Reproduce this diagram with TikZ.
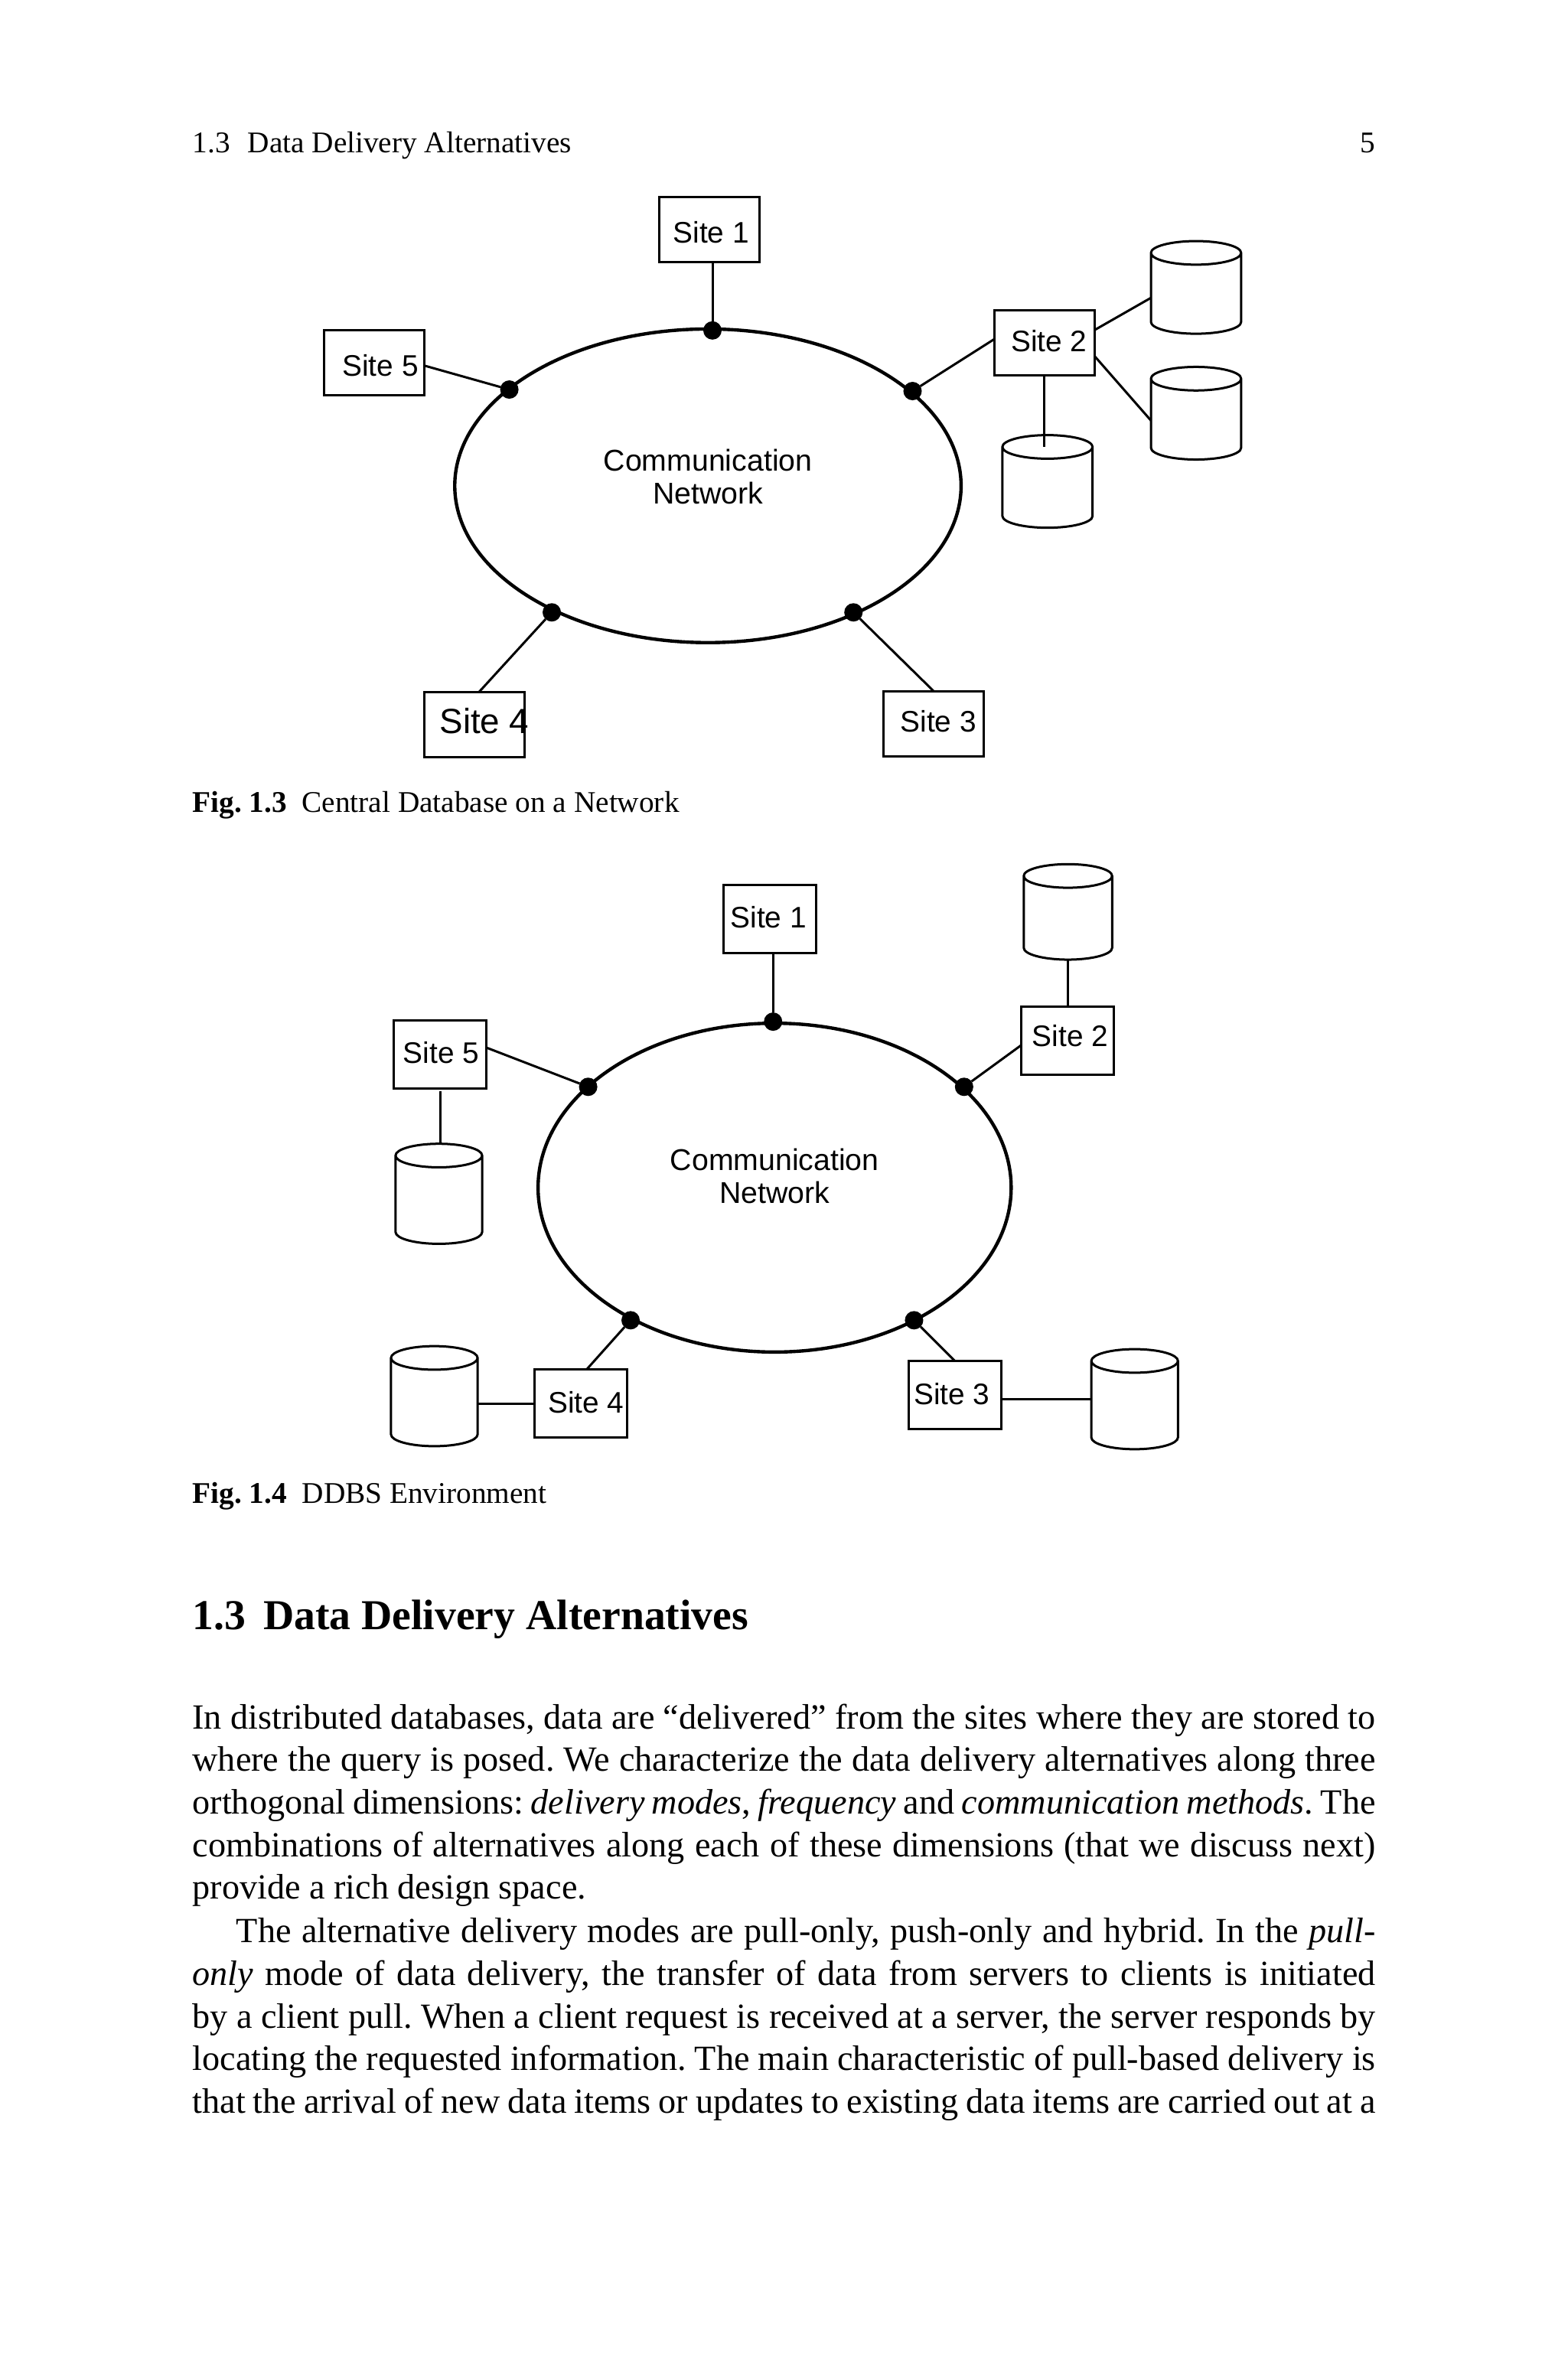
\documentclass[tikz,border=0pt]{standalone}
\usepackage{fontspec}
\setmainfont{Liberation Serif}[WordSpace={1,1,2}]
\newfontfamily\arialfont{Liberation Sans}
\usetikzlibrary{shapes.geometric}
\newcommand{\sitelabel}[3]{\makebox[\boxw][l]{\hspace*{#1}\raisebox{#2}[6pt][0pt]{#3}}}
\tikzset{
  net/.style={draw, ellipse, line width=0.95pt, inner sep=0pt, outer sep=0pt},
  nettext/.style={align=center, inner sep=0pt, font=\arialfont\fontsize{8.5}{9.4}\selectfont},
  dot/.style={circle, fill=black, inner sep=0pt, outer sep=0pt, minimum size=5.2pt},
  sitebox/.style={draw, rectangle, line width=0.65pt, inner sep=0pt, outer sep=0pt, minimum width=\boxw, minimum height=\boxh, font=\arialfont\fontsize{8.4}{10}\selectfont},
  db/.style={draw, cylinder, shape border rotate=90, aspect=1, line width=0.65pt, outer sep=0pt},
  link/.style={line width=0.65pt},
  line/.style={inner sep=0pt, outer sep=0pt, anchor=base west, font=\fontsize{8.5}{11}\selectfont\frenchspacing},
  para/.style={inner sep=0pt, outer sep=0pt, anchor=north west, text width=334.6pt, align=justify, font=\fontsize{10}{12.05}\selectfont\frenchspacing}
}
\begin{document}
\begin{tikzpicture}[x=0.21436pt, y=-0.21436pt]
  \useasboundingbox (0,0) rectangle (2068,3135);
  \node[line] (header) at (254,201) {1.3\hspace{5pt}Data Delivery Alternatives};
  \node[line, anchor=base east] (folio) at (1814,201) {5};

  % first figure
  \def\boxw{28.3pt}
  \def\boxh{18.4pt}
  \node[net, minimum width=143.2pt, minimum height=88.7pt, label={[nettext, name=textA, yshift=2.6pt]center:{Communication\\Network}}] (netA) at (934,641) {};
  \node[sitebox] (siteA1) at (936,303) {\sitelabel{3.9pt}{-0.85pt}{Site 1}};
  \node[sitebox] (siteA2) at (1378,452) {\sitelabel{4.7pt}{0.4pt}{Site 2}};
  \node[sitebox] (siteA3) at (1232,955) {\sitelabel{4.7pt}{0.65pt}{Site 3}};
  \node[sitebox, font=\arialfont\fontsize{9.9}{12}\selectfont] (siteA4) at (626,956) {\sitelabel{4.3pt}{0.4pt}{Site 4}};
  \node[sitebox] (siteA5) at (494,479) {\sitelabel{5.1pt}{-0.65pt}{Site 5}};
  \node[dot] (dotA1) at (940,436) {};
  \node[dot] (dotA2) at (1204,516) {};
  \node[dot] (dotA3) at (1126,808) {};
  \node[dot] (dotA4) at (728,808) {};
  \node[dot] (dotA5) at (672,514) {};
  \node[db, minimum width=25.5pt, minimum height=26.2pt] (dbA1) at (1578,393) {};
  \node[db, minimum width=25.5pt, minimum height=26.2pt] (dbA2) at (1578,559) {};
  \node[db, minimum width=25.5pt, minimum height=26.2pt] (dbA3) at (1382,649) {};
  \path[link]
  (siteA1.south -| dotA1) edge (dotA1)
  (siteA2.176) edge (dotA2)
  (siteA3.north) edge (dotA3)
  (siteA4.82) edge (dotA4)
  (siteA5.-3) edge (dotA5)
  (siteA2.14) edge (dbA1.west)
  (siteA2.-15) edge (dbA2.176)
  (siteA2.south) edge (siteA2.south |- dbA3.before top);
  \node[line] (capA) at (254,1072) {\textbf{Fig. 1.3}\hspace{4.3pt}Central Database on a Network};

  % second figure
  \def\boxw{26.2pt}
  \def\boxh{19.3pt}
  \node[net, minimum width=133.8pt, minimum height=93pt, label={[nettext, name=textB, yshift=3.2pt]center:{Communication\\Network}}] (netB) at (1022,1567) {};
  \node[sitebox] (siteB1) at (1016,1213) {\sitelabel{1.9pt}{0.65pt}{Site 1}};
  \node[sitebox] (siteB2) at (1408,1373) {\sitelabel{3.2pt}{1.3pt}{Site 2}};
  \node[sitebox] (siteB3) at (1260,1841) {\sitelabel{1.5pt}{0.4pt}{Site 3}};
  \node[sitebox] (siteB4) at (766,1852) {\sitelabel{3.9pt}{0.4pt}{Site 4}};
  \node[sitebox] (siteB5) at (581,1391) {\sitelabel{2.6pt}{0.4pt}{Site 5}};
  \node[dot] (dotB1) at (1020,1348) {};
  \node[dot] (dotB2) at (1272,1434) {};
  \node[dot] (dotB3) at (1206,1742) {};
  \node[dot] (dotB4) at (832,1742) {};
  \node[dot] (dotB5) at (776,1434) {};
  \node[db, minimum width=25pt, minimum height=27pt] (dbB2) at (1409,1217) {};
  \node[db, minimum width=24.5pt, minimum height=28.3pt] (dbB3) at (1497,1860) {};
  \node[db, minimum width=24.5pt, minimum height=28.3pt] (dbB4) at (573,1856) {};
  \node[db, minimum width=24.5pt, minimum height=28.3pt] (dbB5) at (579,1589) {};
  \path[link]
  (siteB1.south -| dotB1) edge (dotB1)
  (siteB2.186) edge (dotB2)
  (siteB3.north) edge (dotB3)
  (siteB4.80) edge (dotB4)
  (siteB5.8) edge (dotB5)
  (siteB2.north -| dbB2.south) edge (dbB2.south)
  (siteB3.-5) edge (siteB3.-5 -| dbB3.west)
  (siteB4.west) edge (siteB4.west -| dbB4.east)
  (siteB5.south) edge[shorten <=0.7pt] (siteB5.south |- dbB5.north);
  \node[line] (capB) at (254,1983) {\textbf{Fig. 1.4}\hspace{4.3pt}DDBS Environment};

  % section text
  \node[line, font=\bfseries\fontsize{12.05}{15}\selectfont] (heading) at (254,2150) {1.3\hspace{5pt}Data Delivery Alternatives};
  \node[para] (paraA) at (254,2248) {In distributed databases, data are “delivered” from the sites where they are stored to\linebreak
  where the query is posed. We characterize the data delivery alternatives along three\linebreak
  orthogonal dimensions: \textit{delivery modes}, \textit{frequency} and \textit{communication methods}. The\linebreak
  combinations of alternatives along each of these dimensions (that we discuss next)\linebreak
  provide a rich design space.};
  \node[para] (paraB) at (254,2531) {\hspace*{12.4pt}The alternative delivery modes are pull-only, push-only and hybrid. In the \textit{pull-}\linebreak
  \textit{only} mode of data delivery, the transfer of data from servers to clients is initiated\linebreak
  by a client pull. When a client request is received at a server, the server responds by\linebreak
  locating the requested information. The main characteristic of pull-based delivery is\linebreak
  that the arrival of new data items or updates to existing data items are carried out at a};
\end{tikzpicture}
\end{document}
